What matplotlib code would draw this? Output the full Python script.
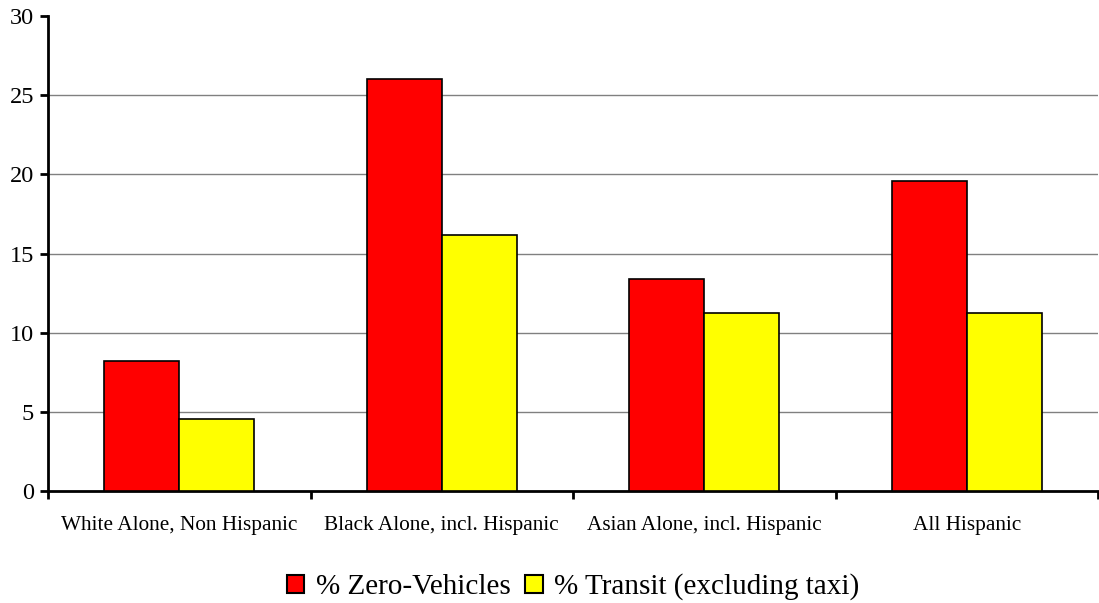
import matplotlib
matplotlib.use("Agg")
import matplotlib.pyplot as plt
import numpy as np
from matplotlib.patches import Patch

categories = ["White Alone, Non Hispanic", "Black Alone, incl. Hispanic",
              "Asian Alone, incl. Hispanic", "All Hispanic"]
zero_vehicles = [8.2, 26.0, 13.4, 19.6]
transit = [4.55, 16.2, 11.25, 11.25]
series_names = ["% Zero-Vehicles", "% Transit (excluding taxi)"]
yticks = [0, 5, 10, 15, 20, 25, 30]

plt.rcParams['font.family'] = ['Liberation Serif', 'DejaVu Serif']

fig = plt.figure(figsize=(10.99, 6.03), dpi=100)
ax = fig.add_axes([48/1099, 1-491/603, 1050/1099, 475/603])

x = np.arange(len(categories))
w = 0.286
ax.bar(x - w/2, zero_vehicles, w, color='#ff0000', edgecolor='black', linewidth=1.2, zorder=3)
ax.bar(x + w/2, transit, w, color='#ffff00', edgecolor='black', linewidth=1.2, zorder=3)

for t in yticks[1:-1]:
    ax.axhline(t, color='#808080', linewidth=1, zorder=1)

ax.set_xlim(-0.5, len(categories) - 0.5)
ax.set_ylim(0, 30)
ax.set_yticks(yticks)
ax.set_yticklabels([str(t) for t in yticks], fontsize=17.5)
ax.set_xticks(np.arange(len(categories) + 1) - 0.5)
ax.set_xticklabels([])
ax.set_xticks(x, minor=True)
ax.set_xticklabels(categories, minor=True, fontsize=15.3)
ax.tick_params(axis='x', which='minor', length=0, pad=18)
ax.tick_params(axis='x', which='major', length=6, width=2, direction='out')
ax.tick_params(axis='y', length=6, width=2, direction='out', pad=4)
for s in ['top', 'right']:
    ax.spines[s].set_visible(False)
for s in ['left', 'bottom']:
    ax.spines[s].set_linewidth(2)

handles = [Patch(facecolor='#ff0000', edgecolor='black', linewidth=1.5),
           Patch(facecolor='#ffff00', edgecolor='black', linewidth=1.5)]
fig.legend(handles, series_names, loc='center', bbox_to_anchor=(573/1099, 1-587/603),
           ncol=2, frameon=False, fontsize=21, handlelength=0.6, handleheight=0.6,
           handletextpad=0.4, columnspacing=0.5)

fig.savefig("out.png", dpi=100)
